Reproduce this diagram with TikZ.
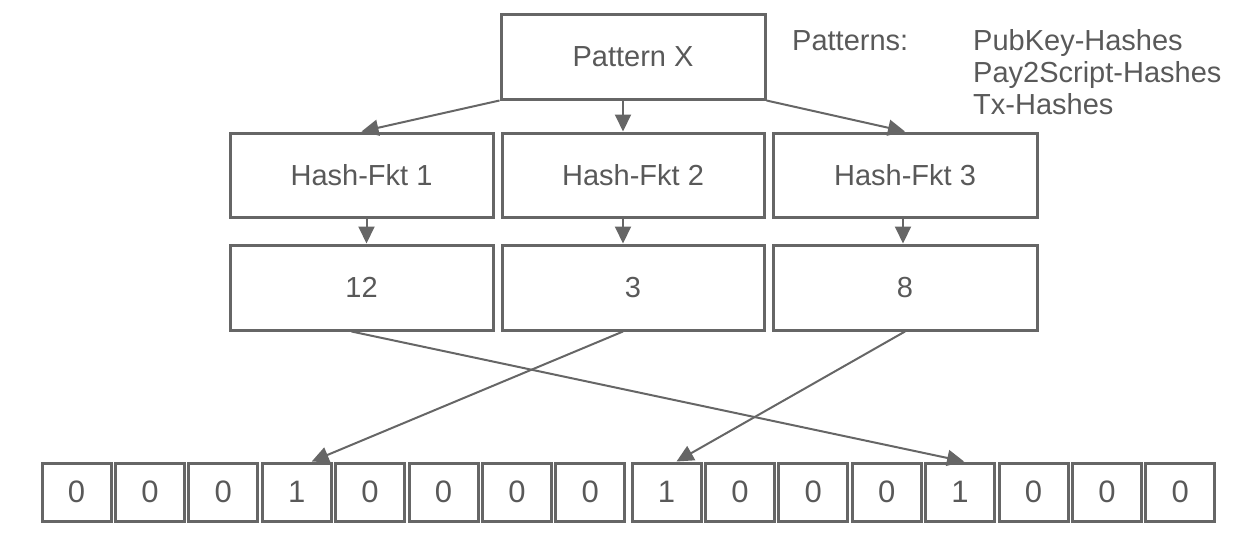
\documentclass[tikz,border=0pt]{standalone}
\usepackage{fontspec}
\setmainfont{Liberation Sans}
\usetikzlibrary{arrows.meta}
\definecolor{lc}{HTML}{666666}
\definecolor{tc}{HTML}{595959}
\begin{document}
\begin{tikzpicture}[x=1pt,y=-1pt,
  box/.style={draw=lc,line width=3pt,minimum width=263pt,minimum height=85pt,inner sep=0pt,text=tc,font=\fontsize{29}{33}\selectfont},
  cell/.style={draw=lc,line width=3pt,minimum width=69pt,minimum height=58pt,inner sep=0pt,text=tc,font=\fontsize{31}{34}\selectfont},
  conn/.style={draw=lc,line width=2pt,-{Triangle[length=17pt,width=16pt]}},
  lbl/.style={text=tc,font=\fontsize{29}{33}\selectfont,inner sep=0pt,anchor=base west}]
\useasboundingbox (0,0) rectangle (1260,538);
\node[box,minimum width=264pt] (px) at (633,56.5) {Pattern X};
\node[box,minimum height=84pt] (h1) at (361.5,175) {Hash-Fkt 1};
\node[box,minimum width=262pt,minimum height=84pt] (h2) at (633,175) {Hash-Fkt 2};
\node[box,minimum width=264pt,minimum height=84pt] (h3) at (905,175) {Hash-Fkt 3};
\node[box] (n1) at (361.5,287.5) {12};
\node[box,minimum width=262pt] (n2) at (633,287.5) {3};
\node[box,minimum width=264pt] (n3) at (905,287.5) {8};
\foreach \v [count=\i] in {0,0,0,1,0,0,0,0}
  \node[cell] (l\i) at ({76.5+(\i-1)*73.4},492) {\v};
\foreach \v [count=\i] in {1,0,0,0,1,0,0,0}
  \node[cell] (r\i) at ({666.5+(\i-1)*73.4},492) {\v};
\node[lbl] (pt) at (792,50) {Patterns:};
\node[lbl] (p1) at (973,50) {PubKey-Hashes};
\node[lbl] (p2) at (973,82) {Pay2Script-Hashes};
\node[lbl] (p3) at (973,114) {Tx-Hashes};
\draw[conn] (px.south west) -- (h1.north);
\draw[conn] ([xshift=-10pt]px.south) -- ([xshift=-10pt]h2.north);
\draw[conn] (px.south east) -- (h3.north);
\draw[conn] ([xshift=5pt]h1.south) -- ([xshift=5pt]n1.north);
\draw[conn] ([xshift=-10pt]h2.south) -- ([xshift=-10pt]n2.north);
\draw[conn] ([xshift=-2pt]h3.south) -- ([xshift=-2pt]n3.north);
\draw[conn] ([xshift=-10pt]n1.south) -- ([xshift=4pt]r5.north);
\draw[conn] ([xshift=-10pt]n2.south) -- ([xshift=15pt]l4.north);
\draw[conn] (n3.south) -- ([xshift=10pt]r1.north);
\end{tikzpicture}
\end{document}
